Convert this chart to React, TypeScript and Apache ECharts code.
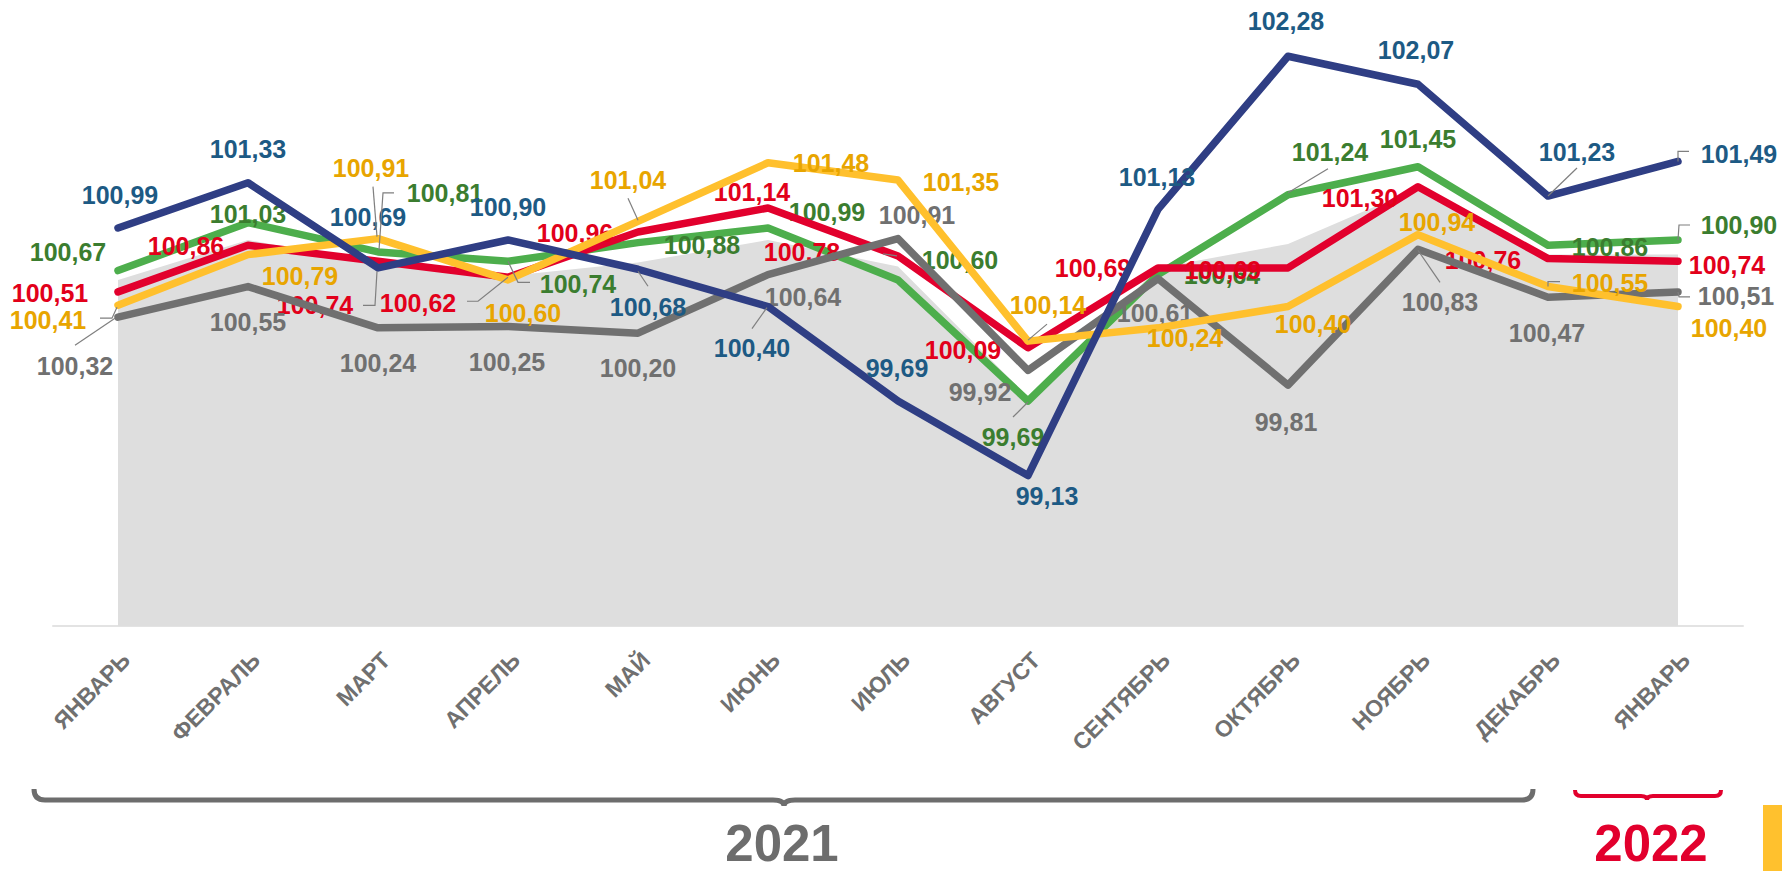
import React, { useEffect, useRef } from 'react';
import * as echarts from 'echarts';

const months = ['ЯНВАРЬ', 'ФЕВРАЛЬ', 'МАРТ', 'АПРЕЛЬ', 'МАЙ', 'ИЮНЬ', 'ИЮЛЬ', 'АВГУСТ', 'СЕНТЯБРЬ', 'ОКТЯБРЬ', 'НОЯБРЬ', 'ДЕКАБРЬ', 'ЯНВАРЬ'];
const blueValues = [100.99, 101.33, 100.69, 100.90, 100.68, 100.40, 99.69, 99.13, 101.13, 102.28, 102.07, 101.23, 101.49];
const greenValues = [100.67, 101.03, 100.81, 100.74, 100.88, 100.99, 100.60, 99.69, 100.64, 101.24, 101.45, 100.86, 100.90];
const redValues = [100.51, 100.86, 100.74, 100.62, 100.96, 101.14, 100.78, 100.09, 100.69, 100.69, 101.30, 100.76, 100.74];
const yellowValues = [100.41, 100.79, 100.91, 100.60, 101.04, 101.48, 101.35, 100.14, 100.24, 100.40, 100.94, 100.55, 100.40];
const grayValues = [100.32, 100.55, 100.24, 100.25, 100.20, 100.64, 100.91, 99.92, 100.61, 99.81, 100.83, 100.47, 100.51];
const areaValues = [100.60, 100.90, 100.72, 100.63, 100.73, 100.90, 100.70, 99.72, 100.69, 100.87, 101.29, 100.79, 100.79];
const yearLabels = ['2021', '2022'];

// label offsets (px) relative to each point
const blueOffsets = [[2, -33], [0, -34], [-10, -51], [0, -33], [10, 38], [-16, 41], [-1, -33], [19, 20], [-1, -32], [-2, -35], [-2, -34], [29, -44], [61, -7]];
const greenOffsets = [[-50, -19], [0, -9], [67, -59], [70, 23], [64, 2], [59, -16], [62, -20], [-15, 36], [64, 0], [42, -43], [0, -28], [62, 2], [61, -15]];
const redOffsets = [[-68, 1], [-62, 1], [-63, 44], [-90, 26], [-63, 1], [-16, -16], [-96, -4], [-65, 2], [-65, 0], [-65, 2], [-58, 11], [-65, 1], [49, 4]];
const yellowOffsets = [[-70, 15], [52, 21], [-7, -71], [15, 33], [-10, -41], [63, 0], [63, 2], [20, -36], [27, 10], [25, 17], [19, -13], [62, -4], [51, 21]];
const grayOffsets = [[-43, 49], [0, 35], [0, 35], [-1, 35], [0, 35], [35, 22], [19, -24], [-48, 22], [-3, 34], [-2, 37], [22, 53], [-1, 36], [58, 4]];

// leader lines: [series, index, polyline offsets]
const leaderDefs: [string, number, number[][]][] = [
  ['blue', 4, [[0, 2], [10, 17]]],
  ['blue', 5, [[-1, 1], [-16, 22]]],
  ['blue', 11, [[0, 0], [29, -28]]],
  ['blue', 12, [[0, 0], [0, -10], [11, -10]]],
  ['green', 2, [[1, -2], [5, -59], [16, -59]]],
  ['green', 3, [[0, 0], [10, 21], [22, 21]]],
  ['green', 7, [[0, 1], [-15, 16]]],
  ['green', 9, [[0, -2], [40, -26]]],
  ['green', 12, [[0, 0], [1, -15], [12, -15]]],
  ['red', 2, [[-1, 10], [-3, 44], [-15, 44]]],
  ['red', 3, [[0, 0], [-30, 24], [-41, 24]]],
  ['red', 6, [[-1, 0], [-15, -2]]],
  ['yellow', 0, [[-1, 2], [-6, 13], [-18, 13]]],
  ['yellow', 2, [[-1, -2], [-5, -52]]],
  ['yellow', 4, [[0, -1], [-10, -23]]],
  ['yellow', 7, [[0, -1], [19, -17]]],
  ['yellow', 11, [[0, 0], [0, -5], [12, -5]]],
  ['gray', 0, [[-3, 1], [-43, 28]]],
  ['gray', 10, [[0, 1], [22, 33]]],
  ['gray', 12, [[0, 0], [1, 5], [12, 5]]],
];

const FONT = 'Liberation Sans, Arial, sans-serif';

const GrayBrace = echarts.graphic.extendPath(
  'M 34 789 Q 34 800 45 800 L 773 800 Q 784 800 784 806 Q 784 800 795 800 L 1522 800 Q 1533 800 1533 789',
  {}
);
echarts.graphic.registerShape('grayBrace', GrayBrace);
const RedBrace = echarts.graphic.extendPath(
  'M 1575 790 Q 1575 796 1581 796 L 1641 796 Q 1647 796 1647 800 Q 1647 796 1653 796 L 1715 796 Q 1721 796 1721 790',
  {}
);
echarts.graphic.registerShape('redBrace', RedBrace);

const fmt = (p: any) => Number(p.value).toFixed(2).replace('.', ',');

function lineSeries(name: string, values: number[], offsets: number[][], lineColor: string, labelColor: string, z: number) {
  return {
    name,
    type: 'line',
    z,
    symbol: 'circle',
    symbolSize: 1,
    showSymbol: true,
    data: values.map((v, i) => ({ value: v, label: { offset: offsets[i] } })),
    lineStyle: { width: 7.5, color: lineColor, cap: 'round', join: 'round' },
    itemStyle: { color: lineColor },
    label: {
      show: true,
      position: 'inside',
      color: labelColor,
      fontSize: 25,
      fontWeight: 'bold',
      fontFamily: FONT,
      formatter: fmt,
    },
    emphasis: { disabled: true },
    silent: true,
  };
}

export default function App() {
  const ref = useRef<HTMLDivElement>(null);
  useEffect(() => {
    if (!ref.current) return;
    const chart = echarts.init(ref.current, null, { renderer: 'svg' });
    const byName: Record<string, number[]> = {
      blue: blueValues, green: greenValues, red: redValues, yellow: yellowValues, gray: grayValues,
    };
    const leaderData = leaderDefs.map(([s, i]) => [i, byName[s][i]]);
    chart.setOption({
      animation: false,
      backgroundColor: '#ffffff',
      grid: { left: 53, right: 39, top: 27, bottom: 245 },
      xAxis: {
        type: 'category',
        data: months,
        boundaryGap: true,
        axisLine: { lineStyle: { color: '#E3E3E3', width: 2 } },
        axisTick: { show: false },
        splitLine: { show: false },
        axisLabel: {
          interval: 0,
          rotate: 45,
          margin: 22,
          verticalAlign: 'top',
          color: '#707070',
          fontSize: 23,
          fontWeight: 'bold',
          fontFamily: FONT,
        },
      },
      yAxis: { type: 'value', min: 98, max: 102.5, show: false },
      series: [
        {
          name: 'area',
          type: 'line',
          z: 1,
          data: areaValues,
          symbol: 'none',
          lineStyle: { width: 0 },
          areaStyle: { color: '#DEDEDE', opacity: 1 },
          silent: true,
        },
        lineSeries('green', greenValues, greenOffsets, '#4DAE4C', '#3B7D2F', 2),
        lineSeries('red', redValues, redOffsets, '#E2002D', '#E2001A', 3),
        lineSeries('gray', grayValues, grayOffsets, '#707070', '#707070', 4),
        lineSeries('yellow', yellowValues, yellowOffsets, '#FFC02D', '#E8A500', 5),
        lineSeries('blue', blueValues, blueOffsets, '#2F3E84', '#1D5A84', 6),
        {
          name: 'leaders',
          type: 'custom',
          z: 7,
          silent: true,
          data: leaderData,
          renderItem: (params: any, api: any) => {
            const p = api.coord([api.value(0), api.value(1)]);
            const pts = leaderDefs[params.dataIndex][2].map(([dx, dy]) => [p[0] + dx, p[1] + dy]);
            return {
              type: 'polyline',
              shape: { points: pts },
              style: { stroke: '#7F7F7F', lineWidth: 1.2, fill: null },
            };
          },
        },
      ],
      graphic: [
        { type: 'grayBrace', x: 0, y: 0, style: { stroke: '#6D6D6D', lineWidth: 5, fill: 'none' } },
        { type: 'redBrace', x: 0, y: 0, style: { stroke: '#E2002D', lineWidth: 4, fill: 'none' } },
        {
          type: 'text', x: 782, y: 843,
          style: { text: yearLabels[0], fill: '#6D6D6D', font: `bold 51px ${FONT}`, textAlign: 'center', textVerticalAlign: 'middle' },
        },
        {
          type: 'text', x: 1651, y: 843,
          style: { text: yearLabels[1], fill: '#E2002D', font: `bold 51px ${FONT}`, textAlign: 'center', textVerticalAlign: 'middle' },
        },
        { type: 'rect', shape: { x: 1763, y: 805, width: 19, height: 66 }, style: { fill: '#FFC12E' } },
      ],
    });
    return () => chart.dispose();
  }, []);
  return (
    <div
      ref={ref}
      style={{ position: 'fixed', left: 0, top: 0, width: 1782, height: 871, background: '#fff' }}
    />
  );
}
